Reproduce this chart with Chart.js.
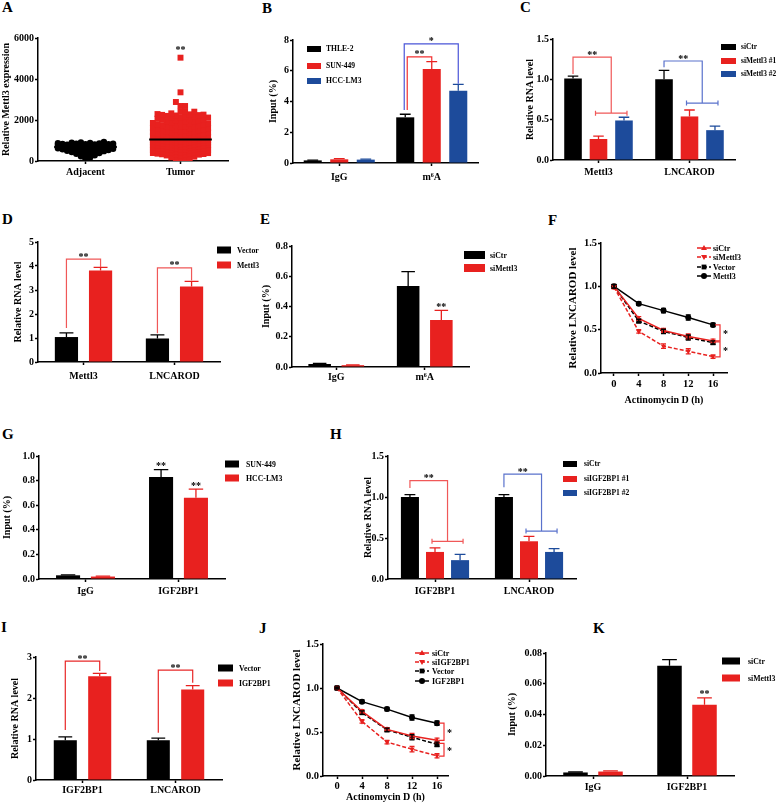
<!DOCTYPE html>
<html>
<head>
<meta charset="utf-8">
<title>Mettl3 / IGF2BP1 / LNCAROD panels</title>
<script src="https://cdn.jsdelivr.net/npm/chart.js@4.4.1/dist/chart.umd.min.js"></script>
<style>
  html, body { margin: 0; padding: 0; background: #fff; }
  body { position: relative; width: 778px; height: 803px; overflow: hidden; }
  .tag { position: absolute; font: bold 15px/15px "Liberation Serif", serif; color: #000; }
</style>
</head>
<body>
<div class="tag" style="left:2px;top:0px">A</div>
<div class="tag" style="left:262px;top:1px">B</div>
<div class="tag" style="left:520px;top:0px">C</div>
<div class="tag" style="left:2px;top:212px">D</div>
<div class="tag" style="left:260px;top:212px">E</div>
<div class="tag" style="left:548px;top:213px">F</div>
<div class="tag" style="left:2px;top:427px">G</div>
<div class="tag" style="left:330px;top:427px">H</div>
<div class="tag" style="left:1px;top:620px">I</div>
<div class="tag" style="left:259px;top:621px">J</div>
<div class="tag" style="left:593px;top:621px">K</div>
<script>

// --------------------------------------------------------------------------
//                                  data
// --------------------------------------------------------------------------

// A : Mettl3 expression, adjacent vs tumor
const aCategories = ['Adjacent', 'Tumor'];
const aAdjacent = [90, 170, 230, 280, 320, 355, 385, 410, 435, 460, 480, 500, 520, 540, 555, 570, 585, 600, 612, 625,
  637, 650, 660, 670, 680, 690, 700, 710, 720, 730, 740, 750, 758, 766, 775, 784, 792, 800, 808, 816,
  824, 832, 840, 850, 860, 870, 882, 895, 910, 935];
const aTumor = [15, 60, 105, 140, 180, 212, 245, 270, 295,
  310, 326, 335, 340, 358, 372, 385, 390, 404, 415, 421, 432, 445, 450, 463, 478, 491, 498, 505, 520, 533,
  540, 548, 561, 575, 582, 590, 602, 618, 625, 631, 645, 660, 665, 672, 688, 695, 701, 715, 728, 735, 742,
  756, 770, 775, 783, 798, 810, 818, 825, 838, 852, 858, 866, 880, 893, 898, 905, 920, 934, 940, 948, 960,
  968, 975, 988, 1000, 1005, 1012, 1025, 1030, 1036, 1040, 1045,
  1058, 1072, 1090, 1105, 1115, 1122, 1138, 1155, 1170, 1180, 1188, 1205, 1222, 1240, 1248, 1258, 1275,
  1295, 1312, 1320, 1330, 1350, 1370, 1390, 1395, 1410, 1432, 1445, 1455, 1478, 1500, 1512, 1525, 1548,
  1572, 1585, 1598, 1622, 1648, 1660, 1675, 1690, 1700, 1728, 1742, 1755, 1782, 1795, 1810, 1840, 1855,
  1870, 1900, 1915, 1930, 1948, 1962, 1995, 2010, 2030, 2048, 2065, 2100, 2120, 2140, 2160, 2180, 2200,
  2220, 2240, 2250, 2262, 2276, 2290,
  2325, 2406, 2406, 2406, 2683, 2683, 2878, 3350, 5040];

// B : m6A RIP
const bCategories = ['IgG', 'm\u2076A'];
const bSeries = ['THLE-2', 'SUN-449', 'HCC-LM3'];
const bThle = [0.17, 2.97];
const bSun = [0.24, 6.11];
const bHcc = [0.22, 4.70];
const bThleErr = [0.02, 0.2];
const bSunErr = [0.04, 0.48];
const bHccErr = [0.03, 0.42];

// C : Mettl3 knockdown
const cCategories = ['Mettl3', 'LNCAROD'];
const cSeries = ['siCtr', 'siMettl3 #1', 'siMettl3 #2'];
const cCtr = [1.01, 1.0];
const cSi1 = [0.26, 0.54];
const cSi2 = [0.49, 0.37];
const cCtrErr = [0.03, 0.11];
const cSi1Err = [0.035, 0.08];
const cSi2Err = [0.04, 0.05];

// D : Mettl3 overexpression
const dCategories = ['Mettl3', 'LNCAROD'];
const dSeries = ['Vector', 'Mettl3'];
const dVector = [1.04, 0.98];
const dMettl3 = [3.81, 3.15];
const dVectorErr = [0.17, 0.15];
const dMettl3Err = [0.13, 0.21];

// E : MeRIP after Mettl3 knockdown
const eCategories = ['IgG', 'm\u2076A'];
const eSeries = ['siCtr', 'siMettl3'];
const eCtr = [0.02, 0.535];
const eSi = [0.012, 0.31];
const eCtrErr = [0.003, 0.095];
const eSiErr = [0.002, 0.065];

// F : LNCAROD decay, Mettl3
const fHours = [0, 4, 8, 12, 16];
const fSiCtr = [1.0, 0.63, 0.49, 0.42, 0.37];
const fSiMettl3 = [0.99, 0.48, 0.31, 0.25, 0.19];
const fVector = [1.0, 0.60, 0.48, 0.41, 0.35];
const fMettl3 = [1.0, 0.80, 0.72, 0.64, 0.555];
const fErr = [0.02, 0.02, 0.025, 0.03, 0.02];

// G : IGF2BP1 RIP
const gCategories = ['IgG', 'IGF2BP1'];
const gSeries = ['SUN-449', 'HCC-LM3'];
const gSun = [0.03, 0.83];
const gHcc = [0.02, 0.66];
const gSunErr = [0.004, 0.06];
const gHccErr = [0.004, 0.07];

// H : IGF2BP1 knockdown
const hCategories = ['IGF2BP1', 'LNCAROD'];
const hSeries = ['siCtr', 'siIGF2BP1 #1', 'siIGF2BP1 #2'];
const hCtr = [1.0, 1.0];
const hSi1 = [0.33, 0.46];
const hSi2 = [0.23, 0.33];
const hCtrErr = [0.03, 0.03];
const hSi1Err = [0.05, 0.06];
const hSi2Err = [0.07, 0.04];

// I : IGF2BP1 overexpression
const iCategories = ['IGF2BP1', 'LNCAROD'];
const iSeries = ['Vector', 'IGF2BP1'];
const iVector = [0.97, 0.97];
const iIgf = [2.53, 2.21];
const iVectorErr = [0.08, 0.05];
const iIgfErr = [0.07, 0.09];

// J : LNCAROD decay, IGF2BP1
const jHours = [0, 4, 8, 12, 16];
const jSiCtr = [1.0, 0.735, 0.53, 0.455, 0.405];
const jSiIgf = [1.0, 0.62, 0.385, 0.305, 0.23];
const jVector = [1.0, 0.72, 0.525, 0.44, 0.36];
const jIgf = [1.0, 0.845, 0.76, 0.665, 0.60];
const jErr = [0.01, 0.02, 0.02, 0.03, 0.025];

// K : IGF2BP1 RIP after Mettl3 knockdown
const kCategories = ['IgG', 'IGF2BP1'];
const kSeries = ['siCtr', 'siMettl3'];
const kCtr = [0.0023, 0.0717];
const kSi = [0.0029, 0.0463];
const kCtrErr = [0.0003, 0.004];
const kSiErr = [0.0004, 0.0045];

// --------------------------------------------------------------------------
//                               helpers
// --------------------------------------------------------------------------

const SERIF = '"Liberation Serif", "Times New Roman", serif';
const RED = '#e8211f';
const BLUE = '#1d4b9b';
const BLACK = '#000000';
const LINK_RED = '#f05858';
const LINK_BLUE = '#5a72cc';

Chart.defaults.font.family = SERIF;
Chart.defaults.font.weight = 'bold';
Chart.defaults.color = '#000';

function marker(ctx, style, x, y, r, color) {
    ctx.fillStyle = color;
    ctx.beginPath();
    if (style === 'circle') ctx.arc(x, y, r, 0, Math.PI * 2);
    else if (style === 'rect') ctx.rect(x - r * 0.8, y - r * 0.8, r * 1.6, r * 1.6);
    else if (style === 'up') { ctx.moveTo(x, y - r); ctx.lineTo(x + r, y + r * 0.7); ctx.lineTo(x - r, y + r * 0.7); }
    else { ctx.moveTo(x, y + r); ctx.lineTo(x + r, y - r * 0.7); ctx.lineTo(x - r, y - r * 0.7); }
    ctx.closePath();
    ctx.fill();
}

// error bars, significance brackets, stars and legends
const extras = {
    id: 'extras',
    afterDatasetsDraw(chart, args, o) {
        const ctx = chart.ctx;
        const xs = chart.scales.x, ys = chart.scales.y;
        const isBar = chart.config.type === 'bar';
        ctx.save();
        ctx.setLineDash([]);

        (o.errors || []).forEach((errs, i) => {
            const ds = chart.data.datasets[i];
            const meta = chart.getDatasetMeta(i);
            if (!errs || !meta) return;
            ctx.strokeStyle = ds.borderColor;
            ctx.lineWidth = 1.3;
            meta.data.forEach((el, j) => {
                const e = errs[j];
                if (!e) return;
                const raw = ds.data[j];
                const v = typeof raw === 'object' ? raw.y : raw;
                const hi = ys.getPixelForValue(v + e);
                const lo = isBar ? el.y : ys.getPixelForValue(v - e);
                const cap = isBar ? el.width * 0.3 : 2.5;
                ctx.beginPath();
                ctx.moveTo(el.x, lo); ctx.lineTo(el.x, hi);
                ctx.moveTo(el.x - cap, hi); ctx.lineTo(el.x + cap, hi);
                if (!isBar) { ctx.moveTo(el.x - cap, lo); ctx.lineTo(el.x + cap, lo); }
                ctx.stroke();
            });
        });

        ctx.font = `bold 10px ${SERIF}`;
        ctx.textBaseline = 'alphabetic';
        const barX = (cat, ds) => chart.getDatasetMeta(ds).data[cat].x;

        (o.brackets || []).forEach(k => {
            ctx.strokeStyle = k.color;
            ctx.lineWidth = 1.2;
            ctx.beginPath();
            if (k.x !== undefined) {
                // vertical bracket at the end of the decay curves
                const px = xs.getPixelForValue(k.x) + 7;
                const y1 = ys.getPixelForValue(k.y1), y2 = ys.getPixelForValue(k.y2);
                ctx.moveTo(px - 5, y1); ctx.lineTo(px, y1); ctx.lineTo(px, y2); ctx.lineTo(px - 5, y2);
                ctx.stroke();
                ctx.fillStyle = '#000';
                ctx.textAlign = 'left';
                ctx.fillText(k.text, px + 3, (y1 + y2) / 2 + 4.5);
                return;
            }
            const xa = barX(k.a[0], k.a[1]) + (k.a[2] || 0);
            let xb, x1, x2;
            if (k.span) {
                x1 = barX(k.span[0], k.span[1]) - 3;
                x2 = barX(k.span[0], k.span[2]) + 3;
                xb = (x1 + x2) / 2;
            } else {
                xb = barX(k.b[0], k.b[1]) + (k.b[2] || 0);
            }
            const y1 = ys.getPixelForValue(k.y1), yt = ys.getPixelForValue(k.top), y2 = ys.getPixelForValue(k.y2);
            ctx.moveTo(xa, y1); ctx.lineTo(xa, yt); ctx.lineTo(xb, yt); ctx.lineTo(xb, y2);
            if (k.span) {
                ctx.moveTo(x1, y2); ctx.lineTo(x2, y2);
                ctx.moveTo(x1, y2 - 2.5); ctx.lineTo(x1, y2 + 2.5);
                ctx.moveTo(x2, y2 - 2.5); ctx.lineTo(x2, y2 + 2.5);
            }
            ctx.stroke();
            ctx.fillStyle = '#000';
            ctx.textAlign = 'center';
            ctx.fillText(k.text, (xa + xb) / 2, yt + 0.5);
        });

        (o.stars || []).forEach(s => {
            let px, py;
            if (s.ds !== undefined) {
                const el = chart.getDatasetMeta(s.ds).data[s.cat];
                const v = chart.data.datasets[s.ds].data[s.cat] + o.errors[s.ds][s.cat];
                px = el.x;
                py = ys.getPixelForValue(v) - 0.5;
            } else {
                px = xs.getPixelForValue(s.x);
                py = ys.getPixelForValue(s.y);
            }
            ctx.fillStyle = '#000';
            ctx.textAlign = 'center';
            ctx.fillText(s.text, px, py);
        });

        if (o.legend) {
            const L = o.legend, ox = o.box[0], oy = o.box[1];
            ctx.font = `bold ${L.size}px ${SERIF}`;
            ctx.textBaseline = 'middle';
            ctx.textAlign = 'left';
            chart.data.datasets.forEach((ds, i) => {
                if (L.y[i] === undefined) return;
                const yy = L.y[i] - oy;
                if (L.line) {
                    ctx.strokeStyle = ds.borderColor;
                    ctx.lineWidth = 1.5;
                    ctx.setLineDash(ds.borderDash || []);
                    ctx.beginPath();
                    ctx.moveTo(L.x - ox, yy); ctx.lineTo(L.x - ox + L.w, yy);
                    ctx.stroke();
                    ctx.setLineDash([]);
                    marker(ctx, ds.mark, L.x - ox + L.w / 2, yy, 3, ds.borderColor);
                } else {
                    ctx.fillStyle = ds.backgroundColor;
                    ctx.fillRect(L.x - ox, yy - L.h / 2, L.w, L.h);
                }
                ctx.fillStyle = '#000';
                ctx.fillText(ds.label, L.tx - ox, yy + 0.5);
            });
        }
        ctx.restore();
    }
};
Chart.register(extras);

function makeCanvas(box) {
    const c = document.createElement('canvas');
    c.width = box[2];
    c.height = box[3];
    c.style.cssText = `position:absolute;left:${box[0]}px;top:${box[1]}px;width:${box[2]}px;height:${box[3]}px`;
    document.body.appendChild(c);
    return c.getContext('2d');
}

function common(p) {
    const [bx, by, bw, bh] = p.box;
    const [l, t, r, b] = p.area;
    const ySize = p.yTitleSize || 10;
    return {
        responsive: false,
        animation: false,
        events: [],
        layout: { padding: { left: 0, top: t - by, right: bx + bw - r, bottom: 0 } },
        xFit: s => { s.height = by + bh - b; },
        yFit: s => { s.width = l - bx; },
        yTitle: {
            display: true, text: p.yTitle, font: { size: ySize },
            padding: { top: Math.max(0, p.yTitleX - bx - ySize * 0.6), bottom: 0 }
        }
    };
}

const axisLine = { color: '#000', width: 1.5 };
const axisTicks = { drawOnChartArea: false, tickLength: 3, tickWidth: 1.5, tickColor: '#000', color: '#000' };

function yAxis(p, c) {
    return {
        min: 0, max: p.yMax,
        border: axisLine,
        grid: axisTicks,
        ticks: { stepSize: p.yStep, padding: 1, font: { size: p.tickSize || 10 }, callback: v => v.toFixed(p.dec) },
        title: c.yTitle,
        afterFit: c.yFit
    };
}

function barPanel(p) {
    const ctx = makeCanvas(p.box);
    const c = common(p);
    new Chart(ctx, {
        type: 'bar',
        data: {
            labels: p.categories,
            datasets: p.series.map((s, i) => ({
                label: s,
                data: p.values[i],
                backgroundColor: p.colors[i],
                borderColor: p.colors[i],
                borderWidth: 0,
                categoryPercentage: p.catPct,
                barPercentage: p.barPct
            }))
        },
        options: {
            responsive: c.responsive, animation: c.animation, events: c.events, layout: c.layout,
            plugins: {
                legend: { display: false },
                tooltip: { enabled: false },
                extras: { box: p.box, errors: p.errors, brackets: p.brackets, stars: p.stars, legend: p.legend }
            },
            scales: {
                x: {
                    border: axisLine,
                    grid: { ...axisTicks, offset: false },
                    ticks: { padding: p.xPad, font: { size: 10 } },
                    afterFit: c.xFit
                },
                y: yAxis(p, c)
            }
        }
    });
}

function linePanel(p) {
    const ctx = makeCanvas(p.box);
    const c = common(p);
    const [bx, by, bw, bh] = p.box;
    new Chart(ctx, {
        type: 'line',
        data: {
            datasets: p.series.map(s => ({
                label: s.label,
                data: p.hours.map((h, j) => ({ x: h, y: s.values[j] })),
                borderColor: s.color,
                backgroundColor: s.color,
                pointBackgroundColor: s.color,
                borderWidth: 1.5,
                borderDash: s.dash ? [4, 2] : [],
                pointStyle: s.mark === 'up' || s.mark === 'down' ? 'triangle' : s.mark,
                pointRotation: s.mark === 'down' ? 180 : 0,
                pointRadius: s.mark === 'rect' ? 3.6 : 3,
                pointBorderWidth: 0,
                tension: 0,
                mark: s.mark
            }))
        },
        options: {
            responsive: c.responsive, animation: c.animation, events: c.events, layout: c.layout,
            plugins: {
                legend: { display: false },
                tooltip: { enabled: false },
                extras: { box: p.box, errors: p.errors, brackets: p.brackets, legend: p.legend }
            },
            scales: {
                x: {
                    type: 'linear', min: p.xMin, max: p.xMax,
                    border: axisLine,
                    grid: axisTicks,
                    afterBuildTicks: s => { s.ticks = p.hours.map(v => ({ value: v })); },
                    ticks: { padding: p.xPad, font: { size: 10.5 } },
                    title: {
                        display: true, text: 'Actinomycin D (h)', font: { size: 10 },
                        padding: { top: 0, bottom: Math.max(0, by + bh - p.xTitleY - 6) }
                    },
                    afterFit: c.xFit
                },
                y: yAxis(p, c)
            }
        }
    });
}

// simple beeswarm: points sorted by value, each pushed sideways until it no longer overlaps
function swarm(values, center, pxPerX, pxPerY, gap, maxSteps) {
    const placed = [];
    return values.slice().sort((p, q) => p - q).map(v => {
        const yp = v * pxPerY;
        let best = 0, bestNear = -1;
        for (let k = 0; k <= 2 * maxSteps; k++) {
            const off = k === 0 ? 0 : (k % 2 ? 1 : -1) * Math.ceil(k / 2) * gap;
            let near = Infinity;
            for (const q of placed) {
                if (yp - q.y < gap) near = Math.min(near, Math.hypot(off - q.x, yp - q.y));
            }
            if (near >= gap) { best = off; break; }
            if (near > bestNear) { bestNear = near; best = off; }
        }
        placed.push({ x: best, y: yp });
        return { x: center + best / pxPerX, y: v };
    });
}

function median(a) {
    const s = a.slice().sort((p, q) => p - q);
    const m = s.length >> 1;
    return s.length % 2 ? s[m] : (s[m - 1] + s[m]) / 2;
}

// --------------------------------------------------------------------------
//                                 panels
// --------------------------------------------------------------------------

// A
(function () {
    const p = { box: [0, 20, 250, 165], area: [38, 38, 228, 161], yTitle: 'Relative Mettl3 expression', yTitleX: 6,
        yMax: 6000, yStep: 2000, dec: 0 };
    const c = common(p);
    const pxPerX = (p.area[2] - p.area[0]) / 2;
    const pxPerY = (p.area[3] - p.area[1]) / p.yMax;
    const medianLine = (vals, center) => [{ x: center - 0.33, y: median(vals) }, { x: center + 0.33, y: median(vals) }];
    new Chart(makeCanvas(p.box), {
        type: 'scatter',
        data: {
            datasets: [
                { label: 'Adjacent', data: swarm(aAdjacent, 0.5, pxPerX, pxPerY, 4.6, 6), pointStyle: 'circle', pointRadius: 3.2,
                  backgroundColor: BLACK, pointBackgroundColor: BLACK, pointBorderWidth: 0, order: 2 },
                { label: 'Tumor', data: swarm(aTumor, 1.5, pxPerX, pxPerY, 4.6, 6), pointStyle: 'rect', pointRadius: 4.2,
                  backgroundColor: RED, pointBackgroundColor: RED, pointBorderWidth: 0, order: 2 },
                { data: medianLine(aAdjacent, 0.5), showLine: true, pointRadius: 0, borderColor: BLACK, borderWidth: 2, order: 1 },
                { data: medianLine(aTumor, 1.5), showLine: true, pointRadius: 0, borderColor: BLACK, borderWidth: 2, order: 1 }
            ]
        },
        options: {
            responsive: false, animation: false, events: [], layout: c.layout,
            plugins: { legend: { display: false }, tooltip: { enabled: false },
                extras: { box: p.box, stars: [{ x: 1.5, y: 5280, text: '**' }] } },
            scales: {
                x: {
                    type: 'linear', min: 0, max: 2,
                    border: axisLine, grid: axisTicks,
                    afterBuildTicks: s => { s.ticks = [{ value: 0.5 }, { value: 1.5 }]; },
                    ticks: { padding: 2, font: { size: 10 }, callback: v => aCategories[Math.round(v - 0.5)] },
                    afterFit: c.xFit
                },
                y: yAxis(p, c)
            }
        }
    });
})();

// B
barPanel({
    box: [266, 20, 252, 165], area: [293, 40, 478, 163], yTitle: 'Input (%)', yTitleX: 273,
    yMax: 8, yStep: 2, dec: 0, xPad: 5, catPct: 0.86, barPct: 0.68,
    categories: bCategories, series: bSeries, values: [bThle, bSun, bHcc], colors: [BLACK, RED, BLUE],
    errors: [bThleErr, bSunErr, bHccErr],
    brackets: [
        { a: [1, 0, 2], b: [1, 1], y1: 3.45, top: 6.9, y2: 6.6, text: '**', color: '#f23030' },
        { a: [1, 0, -1], b: [1, 2], y1: 3.45, top: 7.75, y2: 5.15, text: '*', color: '#4a55d8' }
    ],
    legend: { x: 307, w: 14, h: 6, tx: 326, y: [49, 66, 81], size: 7.6 }
});

// C
barPanel({
    box: [524, 20, 254, 165], area: [553, 39, 735, 160], yTitle: 'Relative RNA level', yTitleX: 530,
    yMax: 1.5, yStep: 0.5, dec: 1, xPad: 3, catPct: 0.84, barPct: 0.69,
    categories: cCategories, series: cSeries, values: [cCtr, cSi1, cSi2], colors: [BLACK, RED, BLUE],
    errors: [cCtrErr, cSi1Err, cSi2Err],
    brackets: [
        { a: [0, 0], span: [0, 1, 2], y1: 1.066, top: 1.276, y2: 0.58, text: '**', color: LINK_RED },
        { a: [1, 0], span: [1, 1, 2], y1: 1.15, top: 1.227, y2: 0.706, text: '**', color: LINK_BLUE }
    ],
    legend: { x: 721, w: 15, h: 6, tx: 741, y: [47, 61, 74], size: 7.4 }
});

// D
barPanel({
    box: [12, 225, 262, 160], area: [38, 242, 220, 362], yTitle: 'Relative RNA level', yTitleX: 18,
    yMax: 5, yStep: 1, dec: 0, xPad: 5, catPct: 0.75, barPct: 0.68,
    categories: dCategories, series: dSeries, values: [dVector, dMettl3], colors: [BLACK, RED],
    errors: [dVectorErr, dMettl3Err],
    brackets: [
        { a: [0, 0], b: [0, 1], y1: 1.42, top: 4.29, y2: 3.96, text: '**', color: LINK_RED },
        { a: [1, 0], b: [1, 1], y1: 1.2, top: 3.92, y2: 3.4, text: '**', color: LINK_RED }
    ],
    legend: { x: 217, w: 14, h: 7, tx: 237, y: [250, 265], size: 7.8 }
});

// E
barPanel({
    box: [260, 225, 258, 160], area: [292, 246, 469, 367], yTitle: 'Input (%)', yTitleX: 266,
    yMax: 0.8, yStep: 0.2, dec: 1, xPad: 1, catPct: 0.75, barPct: 0.68,
    categories: eCategories, series: eSeries, values: [eCtr, eSi], colors: [BLACK, RED],
    errors: [eCtrErr, eSiErr],
    stars: [{ cat: 1, ds: 1, text: '**' }],
    legend: { x: 464, w: 21, h: 8, tx: 490, y: [255, 268], size: 7.8 }
});

// F
linePanel({
    box: [566, 225, 212, 185], area: [601, 243, 727, 373], yTitle: 'Relative LNCAROD level', yTitleX: 573, yTitleSize: 11,
    yMax: 1.5, yStep: 0.5, dec: 1, tickSize: 10.5, xPad: 2, xTitleY: 400, xMin: -2.1, xMax: 18.26,
    hours: fHours,
    series: [
        { label: 'siCtr', values: fSiCtr, color: RED, dash: false, mark: 'up' },
        { label: 'siMettl3', values: fSiMettl3, color: RED, dash: true, mark: 'down' },
        { label: 'Vector', values: fVector, color: BLACK, dash: true, mark: 'rect' },
        { label: 'Mettl3', values: fMettl3, color: BLACK, dash: false, mark: 'circle' }
    ],
    errors: [fErr, fErr, fErr, fErr],
    brackets: [
        { x: 16, y1: 0.555, y2: 0.37, text: '*', color: '#f03030' },
        { x: 16, y1: 0.36, y2: 0.185, text: '*', color: '#f03030' }
    ],
    legend: { line: true, x: 697, w: 14, tx: 713, y: [248, 257, 267, 276], size: 8 }
});

// G
barPanel({
    box: [1, 435, 299, 165], area: [39, 456, 225, 579], yTitle: 'Input (%)', yTitleX: 7,
    yMax: 1.0, yStep: 0.2, dec: 1, xPad: 3, catPct: 0.75, barPct: 0.69,
    categories: gCategories, series: gSeries, values: [gSun, gHcc], colors: [BLACK, RED],
    errors: [gSunErr, gHccErr],
    stars: [{ cat: 1, ds: 0, text: '**' }, { cat: 1, ds: 1, text: '**' }],
    legend: { x: 225, w: 14, h: 7, tx: 246, y: [464, 478], size: 7.8 }
});

// H
barPanel({
    box: [362, 435, 300, 165], area: [388, 456, 576, 579], yTitle: 'Relative RNA level', yTitleX: 368,
    yMax: 1.5, yStep: 0.5, dec: 1, xPad: 3, catPct: 0.8, barPct: 0.72,
    categories: hCategories, series: hSeries, values: [hCtr, hSi1, hSi2], colors: [BLACK, RED, BLUE],
    errors: [hCtrErr, hSi1Err, hSi2Err],
    brackets: [
        { a: [0, 0], span: [0, 1, 2], y1: 1.11, top: 1.2, y2: 0.46, text: '**', color: LINK_RED },
        { a: [1, 0], span: [1, 1, 2], y1: 1.12, top: 1.28, y2: 0.585, text: '**', color: LINK_BLUE }
    ],
    legend: { x: 563, w: 14, h: 6, tx: 584, y: [464, 479, 493], size: 7.6 }
});

// I
barPanel({
    box: [9, 640, 262, 163], area: [36, 657, 222, 780], yTitle: 'Relative RNA level', yTitleX: 15,
    yMax: 3, yStep: 1, dec: 0, xPad: 1, catPct: 0.74, barPct: 0.67,
    categories: iCategories, series: iSeries, values: [iVector, iIgf], colors: [BLACK, RED],
    errors: [iVectorErr, iIgfErr],
    brackets: [
        { a: [0, 0], b: [0, 1], y1: 1.22, top: 2.9, y2: 2.66, text: '**', color: '#e82828' },
        { a: [1, 0], b: [1, 1], y1: 1.15, top: 2.68, y2: 2.37, text: '**', color: '#e82828' }
    ],
    legend: { x: 218, w: 15, h: 7, tx: 239, y: [668, 683], size: 7.8 }
});

// J
linePanel({
    box: [290, 625, 200, 178], area: [323, 644, 448, 776], yTitle: 'Relative LNCAROD level', yTitleX: 297, yTitleSize: 11,
    yMax: 1.5, yStep: 0.5, dec: 1, tickSize: 10.5, xPad: 1, xTitleY: 797, xMin: -2.24, xMax: 17.76,
    hours: jHours,
    series: [
        { label: 'siCtr', values: jSiCtr, color: RED, dash: false, mark: 'up' },
        { label: 'siIGF2BP1', values: jSiIgf, color: RED, dash: true, mark: 'down' },
        { label: 'Vector', values: jVector, color: BLACK, dash: true, mark: 'rect' },
        { label: 'IGF2BP1', values: jIgf, color: BLACK, dash: false, mark: 'circle' }
    ],
    errors: [jErr, jErr, jErr, jErr],
    brackets: [
        { x: 16, y1: 0.60, y2: 0.405, text: '*', color: '#f03030' },
        { x: 16, y1: 0.37, y2: 0.225, text: '*', color: '#f03030' }
    ],
    legend: { line: true, x: 415, w: 14, tx: 432, y: [653, 662, 671, 681], size: 8 }
});

// K
barPanel({
    box: [506, 635, 272, 168], area: [546, 653, 734, 776], yTitle: 'Input (%)', yTitleX: 512,
    yMax: 0.08, yStep: 0.02, dec: 2, xPad: 2, catPct: 0.745, barPct: 0.7,
    categories: kCategories, series: kSeries, values: [kCtr, kSi], colors: [BLACK, RED],
    errors: [kCtrErr, kSiErr],
    stars: [{ cat: 1, ds: 1, text: '**' }],
    legend: { x: 722, w: 18, h: 7, tx: 748, y: [661, 678], size: 7.8 }
});

</script>
</body>
</html>
